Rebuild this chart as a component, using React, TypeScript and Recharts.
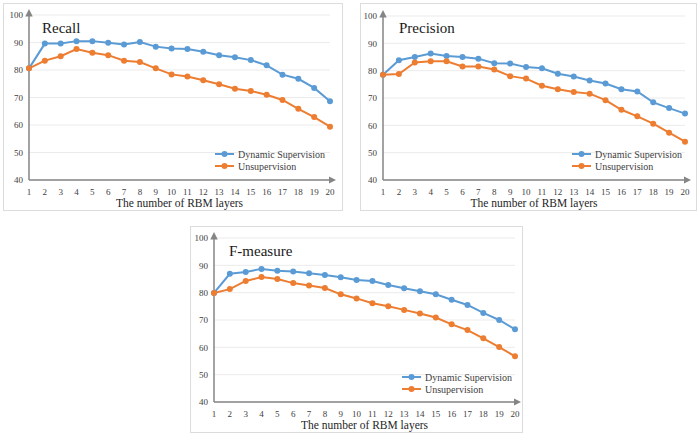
import { LineChart, Line, XAxis, YAxis, CartesianGrid, Legend } from "recharts";

const layers = [1, 2, 3, 4, 5, 6, 7, 8, 9, 10, 11, 12, 13, 14, 15, 16, 17, 18, 19, 20];
const yTicks = [40, 50, 60, 70, 80, 90, 100];

const recallDynamic = [80.6, 89.6, 89.6, 90.5, 90.5, 89.9, 89.3, 90.2, 88.5, 87.8, 87.6, 86.6, 85.4, 84.6, 83.6, 81.7, 78.3, 76.8, 73.5, 68.6];
const recallUnsup = [80.6, 83.4, 85.0, 87.6, 86.3, 85.4, 83.4, 82.9, 80.6, 78.4, 77.6, 76.3, 74.8, 73.2, 72.4, 71.0, 69.1, 65.9, 62.9, 59.4];

const precisionDynamic = [78.5, 83.8, 85.0, 86.3, 85.4, 85.0, 84.4, 82.7, 82.6, 81.3, 80.9, 78.9, 77.9, 76.4, 75.3, 73.2, 72.4, 68.4, 66.3, 64.3];
const precisionUnsup = [78.5, 78.8, 83.0, 83.4, 83.4, 81.5, 81.5, 80.4, 78.0, 77.1, 74.5, 73.2, 72.2, 71.6, 69.2, 65.7, 63.3, 60.6, 57.3, 54.0];

const fDynamic = [79.9, 86.9, 87.6, 88.7, 88.0, 87.7, 87.1, 86.5, 85.6, 84.6, 84.3, 82.8, 81.6, 80.5, 79.4, 77.4, 75.5, 72.6, 70.0, 66.6];
const fUnsup = [79.9, 81.3, 84.3, 85.7, 85.0, 83.5, 82.6, 81.7, 79.4, 77.9, 76.1, 75.0, 73.7, 72.4, 70.9, 68.4, 66.3, 63.3, 60.1, 56.7];

const BLUE = "#5b9bd5";
const ORANGE = "#ed7d31";
const AXIS = "#858585";
const FONT = "'Liberation Serif', 'Times New Roman', serif";

function toRows(dyn: number[], uns: number[]) {
  return layers.map((layer, i) => ({ layer, dynamic: dyn[i], unsup: uns[i] }));
}

function LegendBox({ payload }: any) {
  return (
    <div style={{ fontFamily: FONT, fontSize: 10, color: "#404040" }}>
      {(payload || []).map((p: any) => (
        <div key={p.value} style={{ display: "flex", alignItems: "center", height: 12 }}>
          <svg width={19} height={8} style={{ marginRight: 4 }}>
            <line x1={0} y1={4} x2={19} y2={4} stroke={p.color} strokeWidth={2} />
            <circle cx={9.5} cy={4} r={3} fill={p.color} />
          </svg>
          <span>{p.value}</span>
        </div>
      ))}
    </div>
  );
}

interface PanelProps {
  title: string;
  left: number;
  top: number;
  width: number;
  height: number;
  plotLeft: number;
  plotRight: number;
  plotTop: number;
  plotBottom: number;
  dynamic: number[];
  unsup: number[];
}

function Panel({ title, left, top, width, height, plotLeft, plotRight, plotTop, plotBottom, dynamic, unsup }: PanelProps) {
  const data = toRows(dynamic, unsup);
  return (
    <div
      style={{
        position: "absolute",
        left,
        top,
        width,
        height,
        boxSizing: "border-box",
        border: "1px solid #dcdcdc",
        background: "#fff",
      }}
    >
      <div style={{ position: "absolute", left: -1, top: -1 }}>
        <LineChart
          width={width}
          height={height}
          data={data}
          margin={{ top: plotTop, right: width - plotRight, left: 0, bottom: 0 }}
        >
          <CartesianGrid vertical={false} stroke="#ebebeb" />
          <XAxis
            dataKey="layer"
            height={height - plotBottom}
            padding={{ left: 0, right: 0 }}
            tickLine={false}
            tickMargin={3}
            interval={0}
            axisLine={{ stroke: AXIS, strokeWidth: 1.5, markerEnd: "url(#arrowHead)" }}
            tick={{ fontSize: 9, fill: "#404040", fontFamily: FONT }}
            label={{ value: "The number of RBM layers", position: "insideBottom", offset: 4, fontSize: 11.5, fill: "#262626", fontFamily: FONT }}
          />
          <YAxis
            width={plotLeft}
            domain={[40, 100]}
            ticks={yTicks}
            tickLine={false}
            tickSize={4}
            tickMargin={2}
            interval={0}
            axisLine={{ stroke: AXIS, strokeWidth: 1.5, markerStart: "url(#arrowHeadUp)" }}
            tick={{ fontSize: 9, fill: "#404040", fontFamily: FONT }}
          />
          <Legend
            verticalAlign="middle"
            align="center"
            layout="vertical"
            content={<LegendBox />}
            wrapperStyle={{ left: 212, top: 145, width: 120, height: 24 }}
          />
          <Line
            type="linear"
            dataKey="dynamic"
            name="Dynamic Supervision"
            stroke={BLUE}
            strokeWidth={2}
            dot={{ r: 3, fill: BLUE, stroke: BLUE, strokeWidth: 0 }}
            isAnimationActive={false}
          />
          <Line
            type="linear"
            dataKey="unsup"
            name="Unsupervision"
            stroke={ORANGE}
            strokeWidth={2}
            dot={{ r: 3, fill: ORANGE, stroke: ORANGE, strokeWidth: 0 }}
            isAnimationActive={false}
          />
        </LineChart>
      </div>
      <div
        style={{
          position: "absolute",
          left: 38,
          top: 15,
          fontFamily: FONT,
          fontSize: 15,
          color: "#1a1a1a",
          lineHeight: "18px",
        }}
      >
        {title}
      </div>
    </div>
  );
}

export default function App() {
  return (
    <div style={{ position: "absolute", left: 0, top: 0, width: 700, height: 437, background: "#fff", overflow: "hidden" }}>
      <svg width={0} height={0} style={{ position: "absolute" }}>
        <defs>
          <marker id="arrowHead" viewBox="0 0 10 10" refX={2} refY={5} markerWidth={5} markerHeight={5} orient="auto">
            <path d="M0,0 L10,5 L0,10 z" fill={AXIS} />
          </marker>
          <marker id="arrowHeadUp" viewBox="0 0 10 10" refX={2} refY={5} markerWidth={5} markerHeight={5} orient="auto-start-reverse">
            <path d="M0,0 L10,5 L0,10 z" fill={AXIS} />
          </marker>
        </defs>
      </svg>
      <Panel
        title="Recall"
        left={3}
        top={3}
        width={340}
        height={208}
        plotLeft={26}
        plotRight={327}
        plotTop={12}
        plotBottom={177}
        dynamic={recallDynamic}
        unsup={recallUnsup}
      />
      <Panel
        title="Precision"
        left={360}
        top={3}
        width={337}
        height={208}
        plotLeft={23}
        plotRight={325}
        plotTop={13}
        plotBottom={177}
        dynamic={precisionDynamic}
        unsup={precisionUnsup}
      />
      <Panel
        title="F-measure"
        left={190}
        top={226}
        width={333}
        height={207}
        plotLeft={24}
        plotRight={325}
        plotTop={12}
        plotBottom={176}
        dynamic={fDynamic}
        unsup={fUnsup}
      />
    </div>
  );
}
